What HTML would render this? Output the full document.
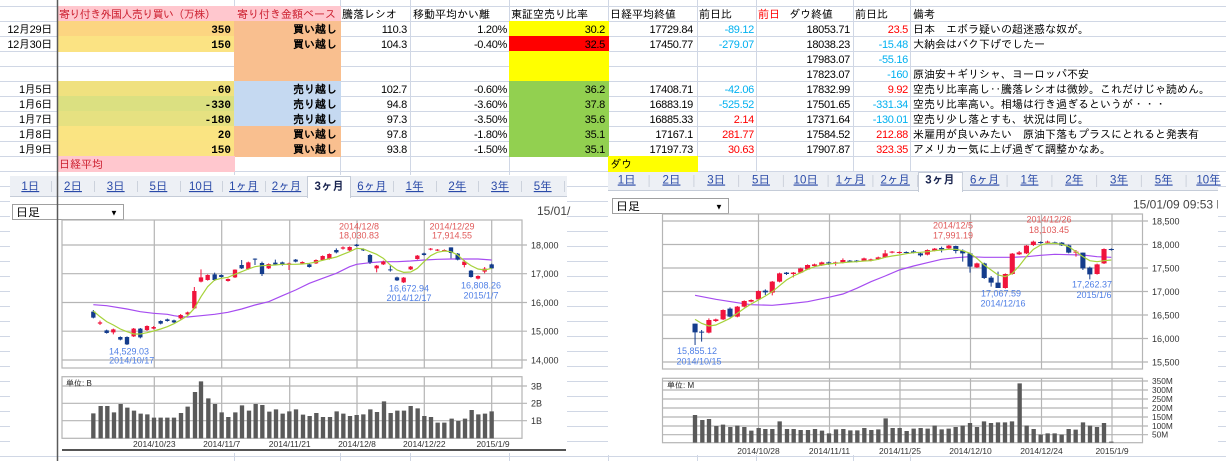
<!DOCTYPE html>
<html><head><meta charset="utf-8"><style>
html,body{margin:0;padding:0;background:#fff;width:1226px;height:461px;overflow:hidden}
svg{display:block}
.s{font-family:"Liberation Sans","IPAGothic","Noto Sans CJK JP",sans-serif}
.n{font-size:11px;letter-spacing:-0.3px}
.j{font-size:11px}
.b{font-family:"Liberation Mono","IPAGothic",monospace;font-weight:bold;font-size:11px}
.bj{font-weight:bold;font-size:11px}
.ax{font-size:9px;fill:#333}
.dl{font-size:8.5px;fill:#333}
.r{fill:#ff0000}.bl{fill:#00b0f0}.hr{fill:#cc1f2f}
.lr{font-size:9px;fill:#e05a5a}.lb{font-size:9px;fill:#4f7fe6}
.tab{font-size:11.5px;fill:#2a4aa8;text-decoration:underline}
.tabA{font-size:11.5px;fill:#1a2550;font-weight:bold}
</style></head><body>
<svg class="s" width="1226" height="461" viewBox="0 0 1226 461" xmlns="http://www.w3.org/2000/svg">
<rect width="1226" height="461" fill="#fff"/>
<!-- grid lines -->
<g stroke="#d0d7e5" stroke-width="1">
<path d="M0 6.5H1226M0 21.5H1226M0 36.5H1226M0 51.5H1226M0 66.5H1226M0 81.5H1226M0 96.5H1226M0 111.5H1226M0 126.5H1226M0 141.5H1226M0 156.5H1226M0 171.5H1226M0 186.5H1226M0 201.5H1226M0 216.5H1226M0 231.5H1226M0 246.5H1226M0 261.5H1226M0 276.5H1226M0 291.5H1226M0 306.5H1226M0 321.5H1226M0 336.5H1226M0 351.5H1226M0 366.5H1226M0 381.5H1226M0 396.5H1226M0 411.5H1226M0 426.5H1226M0 441.5H1226M0 456.5H1226"/>
<path d="M234.5 0V461M340.5 0V461M410.5 0V461M509.5 0V461M608.5 0V461M697.5 0V461M756.5 0V461M853.5 0V461M910.5 0V461"/>
</g>
<!-- fills -->
<rect x="57" y="6" width="178" height="16" fill="#ffc7ce"/>
<rect x="234" y="6" width="107" height="16" fill="#ffc7ce"/>
<rect x="57" y="21" width="178" height="16" fill="#fcd581"/>
<rect x="57" y="36" width="178" height="16" fill="#fbe383"/>
<rect x="57" y="81" width="178" height="16" fill="#f0e17f"/>
<rect x="57" y="96" width="178" height="16" fill="#dbe081"/>
<rect x="57" y="111" width="178" height="16" fill="#e6e181"/>
<rect x="57" y="126" width="178" height="16" fill="#fae482"/>
<rect x="57" y="141" width="178" height="16" fill="#fbe383"/>
<rect x="234" y="21" width="107" height="61" fill="#f9bf8f"/>
<rect x="234" y="81" width="107" height="46" fill="#c5d9f1"/>
<rect x="234" y="126" width="107" height="31" fill="#f9bf8f"/>
<rect x="509" y="21" width="100" height="16" fill="#ffff00"/>
<rect x="509" y="36" width="100" height="16" fill="#ff0000"/>
<rect x="509" y="51" width="100" height="31" fill="#ffff00"/>
<rect x="509" y="81" width="100" height="76" fill="#92d050"/>
<rect x="57" y="156" width="178" height="16" fill="#ffc7ce"/>
<rect x="608" y="156" width="90" height="16" fill="#ffff00"/>
<!-- header -->
<g class="j">
<text x="59" y="18" class="hr" letter-spacing="-0.6">寄り付き外国人売り買い（万株）</text>
<text x="237" y="18" class="hr">寄り付き金額ベース</text>
<text x="342" y="18">騰落レシオ</text>
<text x="413" y="18">移動平均かい離</text>
<text x="511" y="18">東証空売り比率</text>
<text x="610" y="18">日経平均終値</text>
<text x="699" y="18">前日比</text>
<text x="758" y="18" class="r">前日</text>
<text x="789" y="18">ダウ終値</text>
<text x="855" y="18">前日比</text>
<text x="913" y="18">備考</text>
<text x="59" y="168" class="hr">日経平均</text>
<text x="610" y="168">ダウ</text>
</g>
<!-- dates -->
<g class="n" text-anchor="end">
<text x="52" y="33">12月29日</text>
<text x="52" y="48">12月30日</text>
<text x="52" y="93">1月5日</text>
<text x="52" y="108">1月6日</text>
<text x="52" y="123">1月7日</text>
<text x="52" y="138">1月8日</text>
<text x="52" y="153">1月9日</text>
</g>
<g class="b" text-anchor="end">
<text x="231" y="33">350</text>
<text x="231" y="48">150</text>
<text x="231" y="93">-60</text>
<text x="231" y="108">-330</text>
<text x="231" y="123">-180</text>
<text x="231" y="138">20</text>
<text x="231" y="153">150</text>
</g>
<g class="bj" text-anchor="end">
<text x="337" y="33">買い越し</text>
<text x="337" y="48">買い越し</text>
<text x="337" y="93">売り越し</text>
<text x="337" y="108">売り越し</text>
<text x="337" y="123">売り越し</text>
<text x="337" y="138">買い越し</text>
<text x="337" y="153">買い越し</text>
</g>
<g class="n" text-anchor="end">
<text x="407" y="33">110.3</text><text x="407" y="48">104.3</text><text x="407" y="93">102.7</text><text x="407" y="108">94.8</text><text x="407" y="123">97.3</text><text x="407" y="138">97.8</text><text x="407" y="153">93.8</text>
<text x="507" y="33">1.20%</text><text x="507" y="48">-0.40%</text><text x="507" y="93">-0.60%</text><text x="507" y="108">-3.60%</text><text x="507" y="123">-3.50%</text><text x="507" y="138">-1.80%</text><text x="507" y="153">-1.50%</text>
<text x="605" y="33">30.2</text><text x="605" y="48">32.5</text><text x="605" y="93">36.2</text><text x="605" y="108">37.8</text><text x="605" y="123">35.6</text><text x="605" y="138">35.1</text><text x="605" y="153">35.1</text>
<text x="693" y="33">17729.84</text><text x="693" y="48">17450.77</text><text x="693" y="93">17408.71</text><text x="693" y="108">16883.19</text><text x="693" y="123">16885.33</text><text x="693" y="138">17167.1</text><text x="693" y="153">17197.73</text>
<text x="754" y="33" class="bl">-89.12</text><text x="754" y="48" class="bl">-279.07</text><text x="754" y="93" class="bl">-42.06</text><text x="754" y="108" class="bl">-525.52</text><text x="754" y="123" class="r">2.14</text><text x="754" y="138" class="r">281.77</text><text x="754" y="153" class="r">30.63</text>
<text x="850" y="33">18053.71</text><text x="850" y="48">18038.23</text><text x="850" y="63">17983.07</text><text x="850" y="78">17823.07</text><text x="850" y="93">17832.99</text><text x="850" y="108">17501.65</text><text x="850" y="123">17371.64</text><text x="850" y="138">17584.52</text><text x="850" y="153">17907.87</text>
<text x="908" y="33" class="r">23.5</text><text x="908" y="48" class="bl">-15.48</text><text x="908" y="63" class="bl">-55.16</text><text x="908" y="78" class="bl">-160</text><text x="908" y="93" class="r">9.92</text><text x="908" y="108" class="bl">-331.34</text><text x="908" y="123" class="bl">-130.01</text><text x="908" y="138" class="r">212.88</text><text x="908" y="153" class="r">323.35</text>
</g>
<g class="j">
<text x="913" y="33">日本　エボラ疑いの超迷惑な奴が。</text>
<text x="913" y="48">大納会はバク下げでしたー</text>
<text x="913" y="78">原油安＋ギリシャ、ヨーロッパ不安</text>
<text x="913" y="93">空売り比率高し‥騰落レシオは微妙。これだけじゃ読めん。</text>
<text x="913" y="108">空売り比率高い。相場は行き過ぎるというが・・・</text>
<text x="913" y="123">空売り少し落とすも、状況は同じ。</text>
<text x="913" y="138">米雇用が良いみたい　原油下落もプラスにとれると発表有</text>
<text x="913" y="153">アメリカ一気に上げ過ぎて調整かなあ。</text>
</g>

<!-- ===== LEFT CHART ===== -->
<rect x="10" y="175" width="557" height="278" fill="#fff"/>
<rect x="10" y="176" width="557" height="21" fill="#edf0f5"/>
<line x1="10" y1="196.5" x2="567" y2="196.5" stroke="#c5ccd8"/>
<rect x="307.5" y="176.5" width="43" height="21" fill="#fff" stroke="#c5ccd8"/>
<rect x="308" y="196" width="42" height="3" fill="#fff"/>
<g stroke="#ccd2dc"><path d="M51.5 181V192M94.5 181V192M137.5 181V192M180.5 181V192M222.5 181V192M265.5 181V192M393.5 181V192M436.5 181V192M478.5 181V192M521.5 181V192M564.5 181V192"/></g>
<g text-anchor="middle">
<text class="tab" x="30.3" y="190">1日</text><text class="tab" x="73" y="190">2日</text><text class="tab" x="115.7" y="190">3日</text><text class="tab" x="158.4" y="190">5日</text><text class="tab" x="201.1" y="190">10日</text><text class="tab" x="243.8" y="190">1ヶ月</text><text class="tab" x="286.5" y="190">2ヶ月</text><text class="tabA" x="329.2" y="190">3ヶ月</text><text class="tab" x="371.9" y="190">6ヶ月</text><text class="tab" x="414.6" y="190">1年</text><text class="tab" x="457.3" y="190">2年</text><text class="tab" x="500" y="190">3年</text><text class="tab" x="542.7" y="190">5年</text>
</g>
<rect x="12.5" y="204.5" width="111" height="15" fill="#fff" stroke="#a0a0a0"/>
<text x="16" y="216.5" font-size="12">日足</text>
<text x="110" y="215.5" font-size="8">▼</text>
<text x="537" y="215" font-size="12" fill="#444">15/01/</text>
<!-- left grid -->
<g stroke="#b5b5b5" stroke-width="1.2" fill="none">
<rect x="62" y="220" width="460" height="148"/>
<path d="M62 245H527M62 273.7H527M62 302.5H527M62 331.2H527M62 360H527"/>
<path d="M154.3 220V368M221.7 220V368M289.7 220V368M357 220V368M424.3 220V368M491.7 220V368"/>
<rect x="62" y="376.7" width="460" height="61.6"/>
<path d="M62 386H527M62 403.3H527M62 420.7H527"/>
<path d="M154.3 376.7V438.3M221.7 376.7V438.3M289.7 376.7V438.3M357 376.7V438.3M424.3 376.7V438.3M491.7 376.7V438.3"/>
</g>
<g class="ax"><text x="531" y="248.5">18,000</text><text x="531" y="277">17,000</text><text x="531" y="306">16,000</text><text x="531" y="334.5">15,000</text><text x="531" y="363.5">14,000</text><text x="531" y="389.5">3B</text><text x="531" y="406.5">2B</text><text x="531" y="424">1B</text></g>
<g transform="translate(55,225) scale(0.333333)">
<polyline fill="none" stroke="#a64cf0" stroke-width="1.2" vector-effect="non-scaling-stroke" points="115,239 155,242 216,252 256,260 296,265 337,268 357,272 377,275 398,276 438,272 479,268 519,262 560,252 600,240 641,230 682,212 722,195 763,175 803,160 844,145 884,125 905,118 945,113 985,110 1026,110 1067,108 1107,105 1148,103 1188,102 1228,102 1269,102 1310,105"/>
<path fill="none" stroke="#f0143c" stroke-width="1" vector-effect="non-scaling-stroke" d="M135,287V300M175,311V328M236,309V336M276,301V318M296,303V313M377,267V283M398,260V270M418,186V252M438,133V172M458,148V167M519,160V170M540,133V159M580,110V134M641,115V132M702,113V135M742,109V117M783,103V117M803,91V107M823,85V104M864,64V74M884,64V78M965,120V142M985,107V120M1046,156V174M1067,123V135M1087,90V104M1127,69V76M1147,72V78M1168,73V79M1228,105V127M1269,151V163M1289,126V145"/>
<path fill="none" stroke="#143c8c" stroke-width="1" vector-effect="non-scaling-stroke" d="M115,255V280M155,314V326M196,334V346M216,334V360M256,309V340M317,286V298M337,281V290M357,284V294M479,143V168M499,148V158M560,105V132M600,100V120M621,110V153M661,104V120M682,110V122M722,102V112M763,116V128M844,70V85M905,57V65M925,70V78M945,87V117M1006,122V140M1026,155V168M1107,83V92M1188,67V100M1208,84V106M1248,135V158M1310,116V132"/>
<path fill="#f0143c" d="M128.5,292h13V296h-13zM168.5,313h13V322h-13zM229.5,311h13V334h-13zM269.5,303h13V315h-13zM289.5,306h13V311h-13zM370.5,270h13V280h-13zM391.5,262h13V268h-13zM411.5,198h13V250h-13zM431.5,157h13V170h-13zM451.5,150h13V165h-13zM512.5,162h13V168h-13zM533.5,134h13V157h-13zM573.5,112h13V132h-13zM634.5,117h13V130h-13zM695.5,115h13V120h-13zM735.5,111h13V115h-13zM776.5,105h13V115h-13zM796.5,93h13V105h-13zM816.5,87h13V102h-13zM857.5,67h13V71h-13zM877.5,66h13V76h-13zM958.5,122h13V130h-13zM978.5,110h13V118h-13zM1039.5,158h13V172h-13zM1060.5,125h13V133h-13zM1080.5,92h13V102h-13zM1120.5,71h13V74h-13zM1140.5,74h13V77h-13zM1161.5,75h13V78h-13zM1221.5,110h13V120h-13zM1262.5,153h13V161h-13zM1282.5,131h13V140h-13z"/>
<path fill="#143c8c" d="M108.5,260h13V278h-13zM148.5,316h13V324h-13zM189.5,336h13V344h-13zM209.5,336h13V358h-13zM249.5,311h13V337h-13zM310.5,288h13V296h-13zM330.5,283h13V288h-13zM350.5,286h13V292h-13zM472.5,148h13V165h-13zM492.5,150h13V156h-13zM553.5,120h13V130h-13zM593.5,101h13V104h-13zM614.5,114h13V147h-13zM654.5,113h13V118h-13zM675.5,112h13V120h-13zM715.5,104h13V110h-13zM756.5,118h13V126h-13zM837.5,75h13V82h-13zM898.5,59h13V63h-13zM918.5,72h13V76h-13zM938.5,90h13V112h-13zM999.5,133h13V136h-13zM1019.5,157h13V166h-13zM1100.5,85h13V90h-13zM1181.5,67h13V84h-13zM1201.5,86h13V104h-13zM1241.5,137h13V156h-13zM1303.5,118h13V130h-13z"/>
<polyline fill="none" stroke="#a6d23a" stroke-width="1.2" vector-effect="non-scaling-stroke" points="115,258 135,275 155,290 175,300 196,312 216,320 236,327 256,327 276,323 296,318 317,312 337,305 357,296 377,285 398,272 418,250 438,215 458,185 479,165 499,160 519,157 540,148 560,140 580,132 600,125 621,122 641,121 661,120 682,118 702,118 722,118 742,117 763,115 783,111 803,106 823,101 844,96 864,88 884,80 905,70 925,72 945,80 965,88 985,100 1006,120 1026,135 1046,142 1067,141 1087,130 1107,110 1127,92 1147,82 1168,78 1188,80 1208,90 1228,108 1248,122 1269,132 1289,135 1310,130"/>
</g>
<g transform="translate(55,370) scale(0.333333)">
<path fill="#5a5a5a" d="M108.5,130h13V205h-13zM130.5,108h13V205h-13zM150.5,108h13V205h-13zM170.5,127h13V205h-13zM190.5,102h13V205h-13zM210.5,113h13V205h-13zM230.5,122h13V205h-13zM250.5,131h13V205h-13zM270.5,133h13V205h-13zM290.5,143h13V205h-13zM310.5,143h13V205h-13zM330.5,143h13V205h-13zM350.5,143h13V205h-13zM371.5,129h13V205h-13zM391.5,110h13V205h-13zM413.5,66h13V205h-13zM431.5,34h13V205h-13zM453.5,85h13V205h-13zM473.5,102h13V205h-13zM493.5,127h13V205h-13zM513.5,141h13V205h-13zM534.5,127h13V205h-13zM554.5,106h13V205h-13zM575.5,122h13V205h-13zM595.5,102h13V205h-13zM615.5,105h13V205h-13zM636.5,125h13V205h-13zM656.5,118h13V205h-13zM676.5,131h13V205h-13zM696.5,124h13V205h-13zM716.5,118h13V205h-13zM737.5,134h13V205h-13zM757.5,138h13V205h-13zM777.5,129h13V205h-13zM797.5,141h13V205h-13zM818.5,141h13V205h-13zM838.5,124h13V205h-13zM858.5,131h13V205h-13zM878.5,138h13V205h-13zM898.5,135h13V205h-13zM918.5,133h13V205h-13zM939.5,118h13V205h-13zM959.5,126h13V205h-13zM980.5,94h13V205h-13zM1000.5,129h13V205h-13zM1020.5,122h13V205h-13zM1040.5,122h13V205h-13zM1060.5,108h13V205h-13zM1081.5,115h13V205h-13zM1101.5,138h13V205h-13zM1121.5,141h13V205h-13zM1141.5,158h13V205h-13zM1161.5,158h13V205h-13zM1183.5,146h13V205h-13zM1203.5,153h13V205h-13zM1223.5,146h13V205h-13zM1243.5,120h13V205h-13zM1263.5,133h13V205h-13zM1283.5,131h13V205h-13zM1303.5,124h13V205h-13z"/>
</g>
<g text-anchor="middle">
<text class="lr" x="359" y="229.5">2014/12/8</text><text class="lr" x="359" y="238.5">18,030.83</text>
<text class="lr" x="452" y="229.5">2014/12/29</text><text class="lr" x="452" y="238.5">17,914.55</text>
<text class="lb" x="129" y="354.5">14,529.03</text><text class="lb" x="131.7" y="363.5">2014/10/17</text>
<text class="lb" x="409" y="291.5">16,672.94</text><text class="lb" x="409" y="301">2014/12/17</text>
<text class="lb" x="481" y="288.5">16,808.26</text><text class="lb" x="481" y="298.5">2015/1/7</text>
<text class="dl" x="154.3" y="447">2014/10/23</text><text class="dl" x="221.7" y="447">2014/11/7</text><text class="dl" x="289.7" y="447">2014/11/21</text><text class="dl" x="357" y="447">2014/12/8</text><text class="dl" x="424.3" y="447">2014/12/22</text><text class="dl" x="493" y="447">2015/1/9</text>
</g>
<text x="66" y="386" font-size="8" fill="#222">単位: B</text>
<line x1="62" y1="450" x2="566" y2="450" stroke="#555" stroke-width="2"/>

<!-- ===== RIGHT CHART ===== -->
<rect x="608" y="172" width="610" height="283" fill="#fff"/>
<rect x="608" y="172" width="610" height="19" fill="#edf0f5"/>
<line x1="608" y1="190.5" x2="1218" y2="190.5" stroke="#c5ccd8"/>
<rect x="918.5" y="172.5" width="44" height="19" fill="#fff" stroke="#c5ccd8"/>
<rect x="919" y="190" width="43" height="3" fill="#fff"/>
<g stroke="#ccd2dc"><path d="M649.1 175V187M693.9 175V187M738.6 175V187M783.4 175V187M828.1 175V187M872.9 175V187M917.6 175V187M962.4 175V187M1007.1 175V187M1051.9 175V187M1096.6 175V187M1141.4 175V187M1186.1 175V187"/></g>
<g text-anchor="middle">
<text class="tab" x="626.7" y="183.5">1日</text><text class="tab" x="671.5" y="183.5">2日</text><text class="tab" x="716.2" y="183.5">3日</text><text class="tab" x="761" y="183.5">5日</text><text class="tab" x="805.7" y="183.5">10日</text><text class="tab" x="850.5" y="183.5">1ヶ月</text><text class="tab" x="895.2" y="183.5">2ヶ月</text><text class="tabA" x="940" y="183.5">3ヶ月</text><text class="tab" x="984.7" y="183.5">6ヶ月</text><text class="tab" x="1029.5" y="183.5">1年</text><text class="tab" x="1074.2" y="183.5">2年</text><text class="tab" x="1119" y="183.5">3年</text><text class="tab" x="1163.7" y="183.5">5年</text><text class="tab" x="1208.5" y="183.5">10年</text>
</g>
<rect x="612.5" y="198.5" width="116" height="15" fill="#fff" stroke="#a0a0a0"/>
<text x="616" y="210.5" font-size="12">日足</text>
<text x="715" y="209.5" font-size="8">▼</text>
<text x="1133" y="208.5" font-size="12" fill="#444">15/01/09 09:53 E</text>
<rect x="1218" y="195" width="8" height="20" fill="#fff"/>
<g stroke="#b5b5b5" stroke-width="1.2" fill="none">
<rect x="662.5" y="214" width="480" height="155"/>
<path d="M662.5 221H1148M662.5 244.5H1148M662.5 268H1148M662.5 291.5H1148M662.5 315H1148M662.5 338.5H1148M662.5 362H1148"/>
<path d="M758.5 214V369M829.5 214V369M900 214V369M970.5 214V369M1041.5 214V369M1112 214V369"/>
<rect x="662.5" y="378.3" width="480" height="64.4"/>
<path d="M662.5 381H1148M662.5 390H1148M662.5 399H1148M662.5 408H1148M662.5 417H1148M662.5 426H1148M662.5 434.7H1148"/>
<path d="M758.5 378.3V442.7M829.5 378.3V442.7M900 378.3V442.7M970.5 378.3V442.7M1041.5 378.3V442.7M1112 378.3V442.7"/>
</g>
<g class="ax"><text x="1152" y="224.5">18,500</text><text x="1152" y="248">18,000</text><text x="1152" y="271.5">17,500</text><text x="1152" y="295">17,000</text><text x="1152" y="318.5">16,500</text><text x="1152" y="342">16,000</text><text x="1152" y="365.5">15,500</text></g>
<g font-size="8.3" fill="#333"><text x="1152" y="384">350M</text><text x="1152" y="393">300M</text><text x="1152" y="402">250M</text><text x="1152" y="411">200M</text><text x="1152" y="420">150M</text><text x="1152" y="429">100M</text><text x="1152" y="437.5">50M</text></g>
<g transform="translate(655,220) scale(0.36417,0.333333)">
<polyline fill="none" stroke="#a64cf0" stroke-width="1.2" vector-effect="non-scaling-stroke" points="110,226 167,238 226,248 264,254 322,256 361,252 419,245 477,232 516,222 554,205 593,185 632,168 671,150 710,138 748,128 787,118 826,113 865,110 904,112 942,112 981,112 1020,110 1059,106 1098,103 1136,104 1175,105 1214,110 1253,112"/>
<path fill="none" stroke="#f0143c" stroke-width="1" vector-effect="non-scaling-stroke" d="M148,295V340M167,296V306M187,268V300M226,258V292M245,241V262M264,238V247M284,211V240M322,183V226M342,158V187M380,156V172M400,143V160M419,133V150M438,131V140M458,125V138M496,125V137M516,115V130M574,113V124M593,116V124M613,110V120M632,90V114M651,93V100M671,94V101M748,88V106M768,84V94M807,75V87M884,128V144M962,160V206M981,99V164M1000,93V105M1020,75V102M1039,62V78M1078,62V70M1156,90V110M1214,131V164M1233,85V132"/>
<path fill="none" stroke="#143c8c" stroke-width="1" vector-effect="non-scaling-stroke" d="M110,311V375M128,330V365M206,262V292M303,208V225M361,156V165M477,125V135M535,120V127M554,120V127M690,94V101M710,90V100M729,98V110M787,80V97M826,77V100M845,88V125M865,100V158M904,128V177M923,168V200M942,155V204M1059,64V71M1098,65V71M1117,66V78M1136,74V100M1175,98V150M1194,140V178M1253,85V92"/>
<path fill="#f0143c" d="M141,300h14V338h-14zM160,298h14V303h-14zM180,270h14V298h-14zM219,260h14V290h-14zM238,243h14V260h-14zM257,240h14V245h-14zM277,213h14V238h-14zM315,185h14V218h-14zM335,160h14V185h-14zM373,158h14V162h-14zM393,145h14V158h-14zM412,135h14V148h-14zM431,133h14V138h-14zM451,127h14V136h-14zM489,127h14V130h-14zM509,120h14V127h-14zM567,115h14V122h-14zM586,118h14V122h-14zM606,112h14V117h-14zM625,100h14V112h-14zM644,95h14V98h-14zM664,96h14V99h-14zM741,90h14V104h-14zM761,86h14V92h-14zM800,77h14V85h-14zM877,130h14V142h-14zM955,162h14V204h-14zM974,101h14V162h-14zM993,97h14V103h-14zM1013,77h14V100h-14zM1032,65h14V75h-14zM1071,65h14V68h-14zM1149,95h14V98h-14zM1207,133h14V162h-14zM1226,87h14V130h-14z"/>
<path fill="#143c8c" d="M103,311h14V337h-14zM121,335h14V338h-14zM199,266h14V290h-14zM296,212h14V217h-14zM354,158h14V162h-14zM470,127h14V130h-14zM528,122h14V125h-14zM547,122h14V125h-14zM683,96h14V99h-14zM703,94h14V98h-14zM722,100h14V106h-14zM780,84h14V88h-14zM819,78h14V93h-14zM838,92h14V100h-14zM858,100h14V140h-14zM897,130h14V174h-14zM916,173h14V188h-14zM935,188h14V204h-14zM1052,66h14V69h-14zM1091,67h14V70h-14zM1110,68h14V76h-14zM1129,76h14V98h-14zM1168,98h14V145h-14zM1187,143h14V163h-14zM1246,87h14V90h-14z"/>
<polyline fill="none" stroke="#a6d23a" stroke-width="1.2" vector-effect="non-scaling-stroke" points="110,298 128,310 148,318 167,315 187,305 206,295 226,280 245,265 264,252 284,240 303,228 322,215 342,197 361,180 380,168 400,158 419,148 438,140 458,135 477,132 496,130 516,128 535,126 554,125 574,123 593,122 613,118 632,112 651,108 671,105 690,101 710,98 729,97 748,95 768,92 787,90 807,88 826,88 845,92 865,100 884,115 904,135 923,150 942,165 962,170 981,160 1000,138 1020,110 1039,88 1059,75 1078,70 1098,70 1117,73 1136,80 1156,95 1175,110 1194,122 1214,125 1233,122 1253,120"/>
</g>
<g transform="translate(655,370) scale(0.333333)">
<path fill="#5a5a5a" d="M113.5,135h13V218h-13zM135.5,150h13V218h-13zM155.5,147h13V218h-13zM177.5,168h13V218h-13zM197.5,164h13V218h-13zM219.5,171h13V218h-13zM240.5,167h13V218h-13zM261.5,171h13V218h-13zM282.5,182h13V218h-13zM304.5,174h13V218h-13zM324.5,177h13V218h-13zM345.5,177h13V218h-13zM367.5,154h13V218h-13zM389.5,177h13V218h-13zM409.5,177h13V218h-13zM430.5,180h13V218h-13zM452.5,180h13V218h-13zM473.5,177h13V218h-13zM494.5,182h13V218h-13zM515.5,190h13V218h-13zM536.5,178h13V218h-13zM558.5,177h13V218h-13zM579.5,181h13V218h-13zM600.5,181h13V218h-13zM621.5,174h13V218h-13zM642.5,180h13V218h-13zM663.5,178h13V218h-13zM685.5,145h13V218h-13zM706.5,174h13V218h-13zM727.5,174h13V218h-13zM748.5,183h13V218h-13zM769.5,176h13V218h-13zM790.5,174h13V218h-13zM811.5,176h13V218h-13zM832.5,167h13V218h-13zM853.5,178h13V218h-13zM874.5,176h13V218h-13zM895.5,171h13V218h-13zM916.5,167h13V218h-13zM938.5,159h13V218h-13zM959.5,171h13V218h-13zM980.5,154h13V218h-13zM1001.5,159h13V218h-13zM1022.5,157h13V218h-13zM1043.5,157h13V218h-13zM1064.5,154h13V218h-13zM1087.5,40h13V218h-13zM1108.5,167h13V218h-13zM1129.5,177h13V218h-13zM1150.5,194h13V218h-13zM1171.5,190h13V218h-13zM1192.5,190h13V218h-13zM1213.5,194h13V218h-13zM1234.5,177h13V218h-13zM1255.5,179h13V218h-13zM1277.5,157h13V218h-13zM1298.5,167h13V218h-13zM1319.5,171h13V218h-13zM1340.5,159h13V218h-13zM1362.5,215h13V218h-13z"/>
</g>
<g text-anchor="middle">
<text class="lr" x="953" y="228.5">2014/12/5</text><text class="lr" x="953" y="238.5">17,991.19</text>
<text class="lr" x="1049" y="222.5">2014/12/26</text><text class="lr" x="1049" y="233">18,103.45</text>
<text class="lb" x="697" y="354">15,855.12</text><text class="lb" x="699" y="364.5">2014/10/15</text>
<text class="lb" x="1001" y="296.5">17,067.59</text><text class="lb" x="1003" y="306.5">2014/12/16</text>
<text class="lb" x="1092" y="287.5">17,262.37</text><text class="lb" x="1094" y="298">2015/1/6</text>
<text class="dl" x="758.5" y="454">2014/10/28</text><text class="dl" x="829.5" y="454">2014/11/11</text><text class="dl" x="900" y="454">2014/11/25</text><text class="dl" x="970.5" y="454">2014/12/10</text><text class="dl" x="1041.5" y="454">2014/12/24</text><text class="dl" x="1112" y="454">2015/1/9</text>
</g>
<text x="667" y="388" font-size="8" fill="#222">単位: M</text>

<!-- frozen pane line -->
<line x1="57.5" y1="0" x2="57.5" y2="461" stroke="#5a5a5a" stroke-width="1.5"/>
</svg>
</body></html>
